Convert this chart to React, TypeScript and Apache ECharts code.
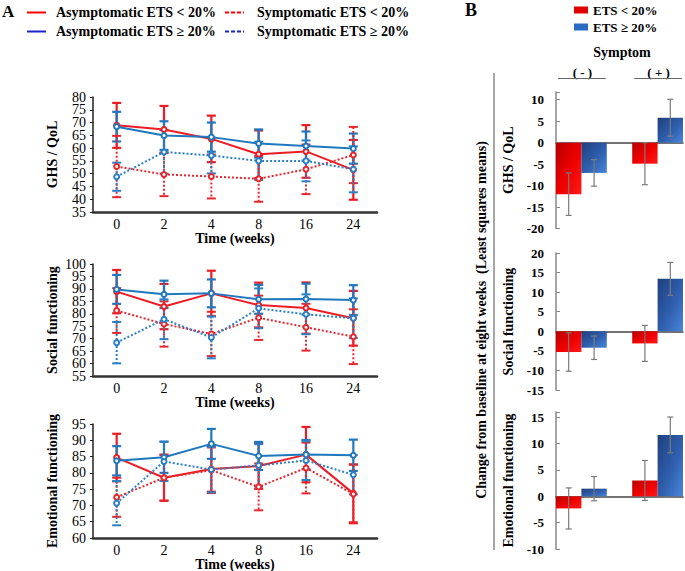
import React, { useEffect, useRef } from 'react';
import * as echarts from 'echarts';

const FONT = '"Liberation Serif", "Times New Roman", Times, serif';

// ---------- Panel A data ----------
const weeks = ['0', '2', '4', '8', '16', '24'];

const ghsAsymLow = [68.9, 67.3, 63.6, 57.6, 58.7, 51.5];
const ghsAsymLowErr = [8.8, 9.2, 9.1, 9.3, 10.3, 11.7];
const ghsAsymHigh = [68.4, 64.9, 64.3, 61.8, 60.8, 59.8];
const ghsAsymHighErr = [5.8, 5.6, 5.7, 5.5, 5.7, 5.9];
const ghsSymLow = [52.8, 49.7, 48.9, 48.0, 51.7, 57.3];
const ghsSymLowErr = [12.0, 8.5, 8.6, 9.0, 9.7, 11.0];
const ghsSymHigh = [48.8, 58.5, 57.1, 55.0, 55.0, 51.7];
const ghsSymHighErr = [5.5, 8.5, 7.0, 7.5, 8.0, 9.0];

const socAsymLow = [88.9, 82.9, 88.2, 83.5, 82.3, 78.2];
const socAsymLowErr = [8.7, 9.1, 9.1, 9.0, 10.3, 11.0];
const socAsymHigh = [89.8, 87.8, 88.2, 85.8, 85.9, 85.5];
const socAsymHighErr = [5.8, 5.5, 5.6, 5.8, 6.2, 6.0];
const socSymLow = [81.3, 75.9, 71.9, 78.4, 74.6, 70.8];
const socSymLowErr = [9.0, 9.1, 8.9, 8.9, 9.4, 11.0];
const socSymHigh = [68.4, 77.8, 70.5, 82.2, 79.8, 78.2];
const socSymHighErr = [8.3, 8.0, 8.4, 8.0, 8.0, 8.0];

const emoAsymLow = [84.7, 78.5, 81.2, 82.1, 85.6, 73.7];
const emoAsymLowErr = [7.3, 7.1, 7.0, 7.0, 8.5, 8.9];
const emoAsymHigh = [83.7, 84.8, 88.9, 85.2, 85.6, 85.4];
const emoAsymHighErr = [4.5, 4.8, 4.6, 4.3, 4.5, 4.8];
const emoSymLow = [72.5, 78.5, 80.8, 75.7, 81.5, 73.5];
const emoSymLowErr = [6.0, 7.0, 7.0, 7.2, 7.8, 9.0];
const emoSymHigh = [70.7, 83.5, 81.0, 82.3, 83.8, 79.4];
const emoSymHighErr = [6.8, 6.0, 7.0, 6.5, 6.0, 6.0];

const lineNames = [
  'Asymptomatic ETS < 20%',
  'Asymptomatic ETS ≥ 20%',
  'Symptomatic ETS < 20%',
  'Symptomatic ETS ≥ 20%',
];

// ---------- Panel B data ----------
const groups = ['( - )', '( + )'];
const barNames = ['ETS < 20%', 'ETS ≥ 20%'];

const ghsChangeLow = [-12.0, -4.9];
const ghsChangeLowErr = [4.95, 4.9];
const ghsChangeHigh = [-7.05, 5.8];
const ghsChangeHighErr = [3.1, 4.3];

const socChangeLow = [-5.3, -3.1];
const socChangeLowErr = [4.9, 4.6];
const socChangeHigh = [-4.2, 13.4];
const socChangeHighErr = [3.0, 4.2];

const emoChangeLow = [-2.3, 3.0];
const emoChangeLowErr = [3.9, 3.8];
const emoChangeHigh = [1.45, 11.65];
const emoChangeHighErr = [2.3, 3.4];

// ---------- styling / layout ----------
const RED = '#ec1c24';
const BLUE = '#1f78be';
const RED_DOT = '#e8262c';
const BLUE_DOT = '#2a80c6';

const panelsA = [
  { name: 'GHS / QoL', min: 35, max: 80, top: 97, height: 115,
    series: [[ghsAsymLow, ghsAsymLowErr], [ghsAsymHigh, ghsAsymHighErr], [ghsSymLow, ghsSymLowErr], [ghsSymHigh, ghsSymHighErr]] },
  { name: 'Social functioning', min: 55, max: 100, top: 264, height: 112,
    series: [[socAsymLow, socAsymLowErr], [socAsymHigh, socAsymHighErr], [socSymLow, socSymLowErr], [socSymHigh, socSymHighErr]] },
  { name: 'Emotional functioning', min: 60, max: 95, top: 424, height: 114,
    series: [[emoAsymLow, emoAsymLowErr], [emoAsymHigh, emoAsymHighErr], [emoSymLow, emoSymLowErr], [emoSymHigh, emoSymHighErr]] },
];

const panelsB = [
  { name: 'GHS / QoL', min: -20, max: 11.8, top: 92, height: 136.5,
    series: [[ghsChangeLow, ghsChangeLowErr], [ghsChangeHigh, ghsChangeHighErr]] },
  { name: 'Social functioning', min: -15, max: 20, top: 253, height: 137,
    series: [[socChangeLow, socChangeLowErr], [socChangeHigh, socChangeHighErr]] },
  { name: 'Emotional functioning', min: -10, max: 16, top: 412, height: 137,
    series: [[emoChangeLow, emoChangeLowErr], [emoChangeHigh, emoChangeHighErr]] },
];

const lineStyles = [
  { color: RED, dotted: false },
  { color: BLUE, dotted: false },
  { color: RED_DOT, dotted: true },
  { color: BLUE_DOT, dotted: true },
];

function errRender(color: string, dotted: boolean, width: number, hw: number, xShift?: (gi: number) => number) {
  return (params: any, api: any) => {
    const xi = api.value(0);
    const x = xShift ? xShift(xi) : xi;
    const top = api.coord([x, api.value(2)]);
    const bot = api.coord([x, api.value(1)]);
    const style: any = { stroke: color, lineWidth: width };
    if (dotted) style.lineDash = [2, 2];
    return {
      type: 'group',
      children: [
        { type: 'line', shape: { x1: top[0], y1: top[1], x2: bot[0], y2: bot[1] }, style },
        { type: 'line', shape: { x1: top[0] - hw, y1: top[1], x2: top[0] + hw, y2: top[1] }, style: { ...style, lineDash: null } },
        { type: 'line', shape: { x1: bot[0] - hw, y1: bot[1], x2: bot[0] + hw, y2: bot[1] }, style: { ...style, lineDash: null } },
      ],
    };
  };
}

const redGrad = () => new echarts.graphic.LinearGradient(0, 0, 1, 1, [
  { offset: 0, color: '#b80000' }, { offset: 0.55, color: '#f00000' }, { offset: 1, color: '#ff1a1a' },
]);
const blueGrad = () => new echarts.graphic.LinearGradient(0, 0, 1, 1, [
  { offset: 0, color: '#1f3f7c' }, { offset: 0.55, color: '#2f5fae' }, { offset: 1, color: '#4a86da' },
]);

export default function App() {
  const ref = useRef<HTMLDivElement>(null);
  useEffect(() => {
    if (!ref.current) return;
    const chart = echarts.init(ref.current, null, { renderer: 'svg' });

    const grid: any[] = [];
    const xAxis: any[] = [];
    const yAxis: any[] = [];
    const extraY: any[] = [];
    const series: any[] = [];
    const tickLabel = { color: '#000', fontSize: 14, fontFamily: FONT, height: 11, lineHeight: 11 };

    panelsA.forEach((p, k) => {
      grid.push({ left: 93, width: 284, top: p.top, height: p.height, outerBoundsMode: 'none' });
      xAxis.push({
        type: 'category', gridIndex: k, data: weeks, boundaryGap: true,
        axisLine: { show: true, lineStyle: { color: '#333', width: 2.5 } },
        axisTick: { show: false },
        axisLabel: { color: '#000', fontSize: 14, fontFamily: FONT, margin: 5 },
        name: 'Time (weeks)', nameLocation: 'middle', nameGap: 9,
        nameTextStyle: { color: '#000', fontSize: 14, fontWeight: 'bold', fontFamily: FONT, lineHeight: 14 },
      });
      // interior tick labels
      yAxis.push({
        type: 'value', gridIndex: k, position: 'left', min: p.min, max: p.max, interval: 5,
        axisLine: { show: true, lineStyle: { color: '#222', width: 1.5 } },
        axisTick: { show: true, length: 3, lineStyle: { color: '#222' } },
        splitLine: { show: false },
        axisLabel: {
          margin: 7,
          formatter: (v: number) => (v === p.min || v === p.max ? '' : `{v|${v}}`),
          rich: { v: tickLabel },
        },
        name: p.name, nameLocation: 'middle', nameGap: 34,
        nameTextStyle: { color: '#000', fontSize: 14, fontWeight: 'bold', fontFamily: FONT },
      });
      // end labels (min / max) on a twin left axis so they are not auto-hidden
      extraY.push({
        type: 'value', gridIndex: k, position: 'left', offset: 0, min: p.min, max: p.max, interval: 5,
        axisLine: { show: false }, axisTick: { show: false }, splitLine: { show: false },
        axisLabel: {
          margin: 7,
          formatter: (v: number) => (v === p.min || v === p.max ? `{v|${v}}` : ''),
          rich: { v: tickLabel },
        },
      });
      p.series.forEach(([vals, errs], si) => {
        const st = lineStyles[si];
        series.push({
          type: 'custom', name: lineNames[si] + ' error', xAxisIndex: k, yAxisIndex: k,
          data: vals.map((v, i) => [i, v - errs[i], v + errs[i]]),
          encode: { x: 0, y: [1, 2] },
          renderItem: errRender(st.color, st.dotted, st.dotted ? 2 : 2.2, 4.5),
          z: 2, silent: true,
        });
        series.push({
          type: 'line', name: lineNames[si], xAxisIndex: k, yAxisIndex: k, data: vals,
          symbol: 'emptyCircle', symbolSize: 5,
          lineStyle: { color: st.color, width: 2, type: st.dotted ? [2, 2] : 'solid' },
          itemStyle: { color: st.color, borderColor: si % 2 === 0 ? '#c87090' : '#9090d8', borderWidth: 1 },
          z: 3,
        });
      });
    });

    panelsB.forEach((p, j) => {
      const k = j + 3;
      grid.push({ left: 556, width: 127, top: p.top, height: p.height, outerBoundsMode: 'none' });
      xAxis.push({
        type: 'value', gridIndex: k, min: 0, max: 5,
        axisLine: { show: true, onZero: true, lineStyle: { color: '#444', width: 1.5 } },
        axisTick: { show: false }, axisLabel: { show: false }, splitLine: { show: false },
      });
      yAxis.push({
        type: 'value', gridIndex: k, position: 'left', min: p.min, max: p.max, interval: 5,
        axisLine: { show: true, lineStyle: { color: '#888', width: 1.5 } },
        axisTick: { show: true, inside: true, length: 4, lineStyle: { color: '#888' } },
        splitLine: { show: false },
        axisLabel: {
          color: '#000', fontSize: 13, fontWeight: 'bold', fontFamily: FONT, margin: 12,
          formatter: (v: number) => (v % 5 === 0 ? String(v) : ''),
        },
        name: p.name, nameLocation: 'middle', nameGap: 41,
        nameTextStyle: { color: '#000', fontSize: 14, fontWeight: 'bold', fontFamily: FONT },
      });
      p.series.forEach(([vals, errs], si) => {
        const off = si;
        series.push({
          type: 'custom', name: barNames[si], xAxisIndex: k, yAxisIndex: k,
          data: vals.map((v, i) => [i, v]),
          encode: { x: 0, y: 1 },
          itemStyle: { color: si === 0 ? '#e00000' : '#2f68c0' },
          renderItem: (params: any, api: any) => {
            const gi = api.value(0);
            const v = api.value(1);
            const x0 = gi * 3 + off;
            const a = api.coord([x0, 0]);
            const b = api.coord([x0 + 1, v]);
            return {
              type: 'rect',
              shape: { x: a[0], y: Math.min(a[1], b[1]), width: b[0] - a[0], height: Math.abs(a[1] - b[1]) },
              style: { fill: si === 0 ? redGrad() : blueGrad() },
            };
          },
          z: 2,
        });
        series.push({
          type: 'custom', name: barNames[si] + ' error', xAxisIndex: k, yAxisIndex: k,
          data: vals.map((v, i) => [i, v - errs[i], v + errs[i]]),
          encode: { x: 0, y: [1, 2] },
          renderItem: errRender('#7a7a7a', false, 1.2, 3, (gi) => gi * 3 + off + 0.5),
          z: 4, silent: true,
        });
      });
    });

    const bold14 = `bold 14px ${FONT}`;
    const bold13 = `bold 13px ${FONT}`;

    const legendA: any[] = [];
    const legendRows = [12.5, 31.5];
    [[0, 27, 56], [2, 225, 257], [1, 27, 56], [3, 225, 257]].forEach(([si, lx, tx], idx) => {
      const y = legendRows[Math.floor(idx / 2)];
      const st = lineStyles[si];
      legendA.push({
        type: 'line', shape: { x1: lx, y1: y, x2: lx + 19, y2: y },
        style: { stroke: si % 2 === 0 ? '#ff0000' : '#1a22c8', lineWidth: 2, lineDash: st.dotted ? [4, 2] : null },
      });
      legendA.push({
        type: 'text', x: tx, y, style: { text: lineNames[si], font: bold14, fill: '#000', verticalAlign: 'middle' },
      });
    });

    const legendB: any[] = [];
    barNames.forEach((n, i) => {
      const y = i === 0 ? 10 : 27;
      legendB.push({ type: 'rect', shape: { x: 574, y: y - 3.5, width: 14, height: 7 }, style: { fill: i === 0 ? '#e00000' : '#2a6cc4' } });
      legendB.push({ type: 'text', x: 593, y, style: { text: n, font: bold13, fill: '#000', verticalAlign: 'middle' } });
    });

    const baseGraphic: any[] = [
      { type: 'text', x: 2, y: 11, style: { text: 'A', font: `bold 17px ${FONT}`, fill: '#000', verticalAlign: 'middle' } },
      { type: 'text', x: 465, y: 10, style: { text: 'B', font: `bold 18px ${FONT}`, fill: '#000', verticalAlign: 'middle' } },
      ...legendA,
      ...legendB,
      { type: 'text', x: 622, y: 52, style: { text: 'Symptom', font: bold14, fill: '#000', align: 'center', verticalAlign: 'middle' } },
      { type: 'line', shape: { x1: 494, y1: 73, x2: 494, y2: 550 }, style: { stroke: '#888', lineWidth: 1.5 } },
      {
        type: 'text', x: 481, y: 320, rotation: Math.PI / 2,
        style: { text: 'Change from baseline at eight weeks  (Least squares means)', font: bold14, fill: '#000', align: 'center', verticalAlign: 'middle' },
      },
    ];

    chart.setOption({
      animation: false,
      backgroundColor: '#fff',
      textStyle: { fontFamily: FONT },
      grid, xAxis, yAxis: [...yAxis, ...extraY], series,
      graphic: baseGraphic,
    });

    // group headers placed through the panel B axis scale
    const groupGraphic: any[] = [];
    groups.forEach((g, gi) => {
      const xl = chart.convertToPixel({ xAxisIndex: 3 } as any, gi * 3) as unknown as number;
      const xr = chart.convertToPixel({ xAxisIndex: 3 } as any, gi * 3 + 2) as unknown as number;
      const xm = (xl + xr) / 2;
      groupGraphic.push({ type: 'text', x: xm + 1, y: 72, style: { text: g, font: bold13, fill: '#000', align: 'center', verticalAlign: 'middle' } });
      groupGraphic.push({ type: 'line', shape: { x1: xl + 2, y1: 78.5, x2: xr - 1, y2: 78.5 }, style: { stroke: '#666', lineWidth: 1.2 } });
    });
    chart.setOption({ graphic: [...baseGraphic, ...groupGraphic] }, { replaceMerge: ['graphic'] });

    return () => chart.dispose();
  }, []);

  return <div ref={ref} style={{ position: 'absolute', left: 0, top: 0, width: 685, height: 571, background: '#fff' }} />;
}
